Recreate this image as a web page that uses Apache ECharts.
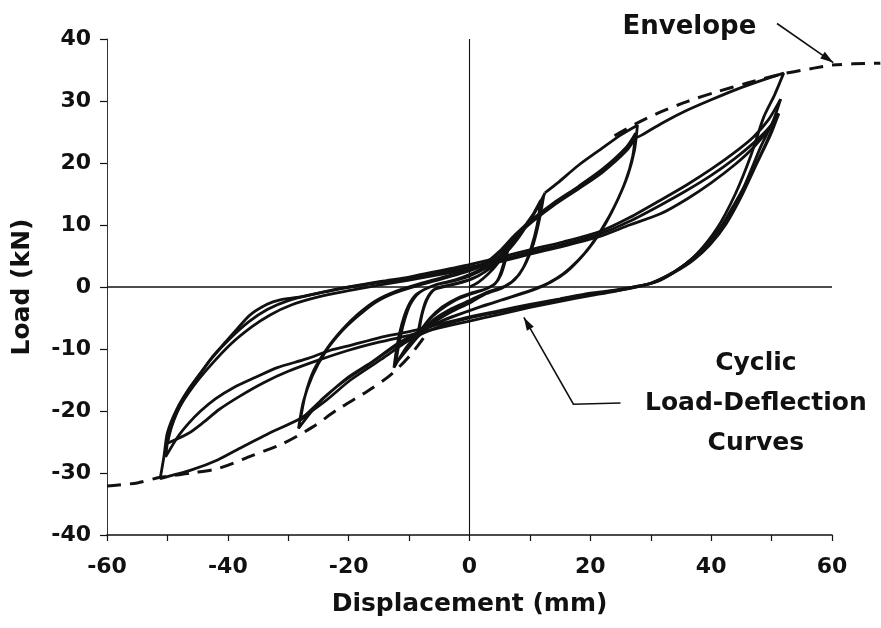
<!DOCTYPE html>
<html><head><meta charset="utf-8">
<script src="https://cdn.jsdelivr.net/npm/echarts@6/dist/echarts.min.js"></script>
<style>html,body{margin:0;padding:0;background:#fff}#c{width:881px;height:628px}</style>
</head><body><div id="c"></div>
<script>
// ---- axis ticks ----
const xTickLabels = [-60, -40, -20, 0, 20, 40, 60];
const yTickLabels = [-40, -30, -20, -10, 0, 10, 20, 30, 40];

// ---- hysteresis branches [displacement mm, load kN] ----
const cycleSmall = [
  [0,0],[1.5,0.8],[3,2],[4.5,3.6],[5.8,5.6],[6.6,7.2],
  [6.0,4.5],[5.2,2.0],[4.2,0.5],[2.5,-0.4],[0,-1.2],[-2.5,-2.2],[-5,-3.8],[-7,-5.6],[-8.6,-7.8],
  [-8.0,-4.8],[-7.2,-2.2],[-6,-0.5],[-3.5,0.2],[-1,0.8],[1.5,1.8],[3.5,3.2],[5.2,5.0],[6.4,7.0],
  [5.6,3.6],[4.6,1.0],[3,-0.2],[0.5,-0.9],[-2,-1.8],[-4.5,-3.2],[-6.5,-5],[-8.4,-7.4],
  [-7.8,-4.2],[-6.8,-1.6],[-5.5,-0.2],[-3,0.4],[0,1.2],[2.5,2.4],[4.5,4.0],[6.0,5.8]
];
const cycleMedium = [
  [6.0,5.8],[8,8.3],[10,11],[11.4,13],[12.3,14.8],
  [11.6,11],[10.6,7],[9.4,4],[8,1.8],[6,0.2],[3,-0.8],[0,-2.2],[-3,-3.5],[-6,-5.3],[-8.5,-7.5],[-10.5,-9.8],[-12.5,-13],
  [-12.0,-9.5],[-11.2,-6],[-10.2,-3.2],[-8.8,-1.2],[-6,0.2],[-3,0.9],[0,1.8],[3,3.2],[5.5,5],[8,7.8],[10,10.8],[11.8,14],
  [11.2,10],[10.2,6.3],[9,3.3],[7.5,1.2],[5.5,-0.1],[2.5,-1.2],[0,-2.6],[-3,-4],[-6,-5.8],[-8.5,-8],[-10.5,-10.3],[-12.2,-12.3],
  [-11.6,-8.8],[-10.8,-5.5],[-9.8,-2.8],[-8.3,-0.9],[-5.5,0.4],[-2.5,1.1],[0,2],[3,3.5],[6,5.8],[8.5,8.8],[10.5,11.5],[12.5,15.2]
];
const cycleLarge = [
  [12.5,15.2],[14.6,16.8],[18,19.6],[21.7,22.2],[25,24.5],[27.8,26.1],
  [27.3,22],[26.2,18],[24.5,14],[22.5,10.2],[20.5,7.2],[18.5,4.8],[16,2.4],[13.5,0.8],[11,-0.3],[7,-1.6],[3,-2.8],[0,-3.8],[-4,-5.2],[-8,-7],[-12,-9.2],[-16,-12],[-20,-14.5],[-24,-17.8],[-28,-21.5],
  [-27.2,-17.5],[-25.8,-13.5],[-23.5,-9.8],[-21,-6.8],[-18.5,-4.4],[-15.5,-2.2],[-12.5,-0.8],[-9,0.3],[-5,1.4],[-1,2.5],[2.5,3.8],[5,5.8],[7.5,8.4],[10.5,11],[14,13.6],[18,16.2],[22,19],[26,22.6],[27.5,24.8],
  [27,21],[25.8,17],[24,13],[22,9.5],[20,6.6],[18,4.3],[15.5,2.1],[13,0.6],[10.5,-0.4],[6.5,-1.7],[2.5,-3],[-0.5,-4],[-4.5,-5.5],[-8.5,-7.4],[-12.5,-9.7],[-16.5,-12.4],[-20.5,-15],[-24.5,-18.2],[-28.3,-22.8],
  [-27.5,-18.5],[-26,-14.3],[-23.8,-10.4],[-21.2,-7.2],[-18.6,-4.8],[-15.6,-2.5],[-12.5,-1],[-9,0.1],[-5,1.2],[-1,2.3],[2.5,3.6],[5,5.5],[7.5,8],[10.5,10.6],[14,13.2],[18,15.8],[22,18.5],[26,22],[27.4,24]
];
const cycleBig1 = [
  [27.4,24],[28.5,24.5],[32,26.5],[36,28.5],[40,30.2],[44,31.8],[48,33.2],[52,34.5],
  [50.5,31],[48.7,27.4],[46.5,21],[44,15],[41,9.5],[37.5,5.2],[34,2.5],[31,1],[29,0.3],[25,-0.5],[20,-1.2],[15,-2],[10,-3],[5,-4],[0,-5],[-5,-6.4],[-10,-8.6],[-14.5,-11.6],
  [-19.7,-15],[-24,-18.5],[-28,-21.2],[-33.4,-23.7],[-38,-26],[-41.7,-27.9],[-46,-29.5],[-51.2,-30.9],
  [-50.6,-27.5],[-50,-23.5],[-48.5,-19.8],[-46.5,-16.5],[-44.5,-13.9],[-42.5,-11.2],[-40.5,-9],[-38.5,-6.8],[-36.3,-4.5],[-33.5,-2.8],[-31.5,-2.1],[-28,-1.6],[-24,-0.8],[-20,0],[-14.7,0.9],[-10,1.6],[-6.5,2.3],[-3,3],[0,3.6],[5.6,4.9],[10,6],[15.6,7.3],[21.7,9],[26.5,11.2],[31.6,14],[36,16.5],[40,19],[44,21.8],[47,24.2],[49.5,27],[51.5,30.3]
];
const cycleBig2 = [
  [51.5,30.3],[50.3,26.9],[48.2,22.6],[45.4,16.1],[43.5,12.8],[41.6,9.7],[39.5,7.2],[37.1,4.8],[34.5,2.8],[31.6,1.1],[28.8,0.3],[24,-0.5],[20,-1],[15,-1.9],[10,-2.8],[5,-3.8],[0,-4.8],[-5,-6],[-10,-7.2],[-15,-8.2],[-20,-9.5],[-23,-10.2],[-27,-11.6],[-31.8,-13],[-35.5,-14.6],[-39,-16.2],[-42,-18],[-44.5,-20],[-46.5,-22],[-48.3,-24.2],[-50.3,-27.4],
  [-49.8,-24],[-48.8,-21],[-47,-17.5],[-45,-14.5],[-42.5,-11.3],[-39.5,-8.2],[-36.5,-5.6],[-33.4,-3.6],[-30,-2.2],[-26,-1.2],[-21,-0.2],[-15,0.7],[-10,1.4],[-5,2.3],[0,3.2],[5.6,4.5],[10,5.6],[15.6,6.9],[21.7,8.6],[26.5,10.6],[31.6,13.2],[36,15.6],[40,18],[44,20.8],[47,23.2],[49.5,25.6],[51.2,28]
];
const cycleBig3 = [
  [51.2,28],[49.8,24.5],[47.5,19.8],[45,14.6],[42.5,10.2],[39.8,6.8],[37,4.3],[34,2.4],[31,0.9],[28.8,0.3],[24,-0.7],[20,-1.4],[15,-2.3],[10,-3.3],[5,-4.4],[0,-5.5],[-5,-6.6],[-10,-7.8],[-15,-8.9],[-20,-10.2],[-25,-11.8],[-30,-13.6],[-34,-15.4],[-38,-17.6],[-41.5,-19.8],[-44,-21.8],[-46.5,-23.6],[-50,-25.2],
  [-49.3,-22.5],[-48,-19.4],[-45.7,-16],[-43,-12.8],[-39.5,-9.2],[-36,-6.4],[-33,-4.5],[-29.5,-2.9],[-25,-1.6],[-20,-0.6],[-15,0.3],[-10,1.1],[-5,2],[0,2.9],[5.6,4.2],[10,5.3],[15.6,6.6],[21.7,8.2],[26.5,10],[31.6,11.8],[36,14.2],[40,16.8],[44,19.8],[47,22.5],[50.5,26.5],
  [49,23],[46.5,18],[44,13.2],[41.5,9.3],[38.5,5.9],[35.5,3.5],[32.5,1.7],[30,0.6],[27,0],[23,-0.8]
];
// ---- envelope (dashed) ----
const envelopeNeg = [[-60,-32.1],[-55,-31.6],[-51.2,-30.7],[-46,-30],[-41.7,-29.3],[-36,-27.2],[-31,-25.3],[-26,-22.6],[-21.9,-19.8],[-16.9,-16.8],[-13.1,-14.2],[-9.8,-11],[-7,-7.4]];
const envelopePos = [[24,24.4],[27.5,26.3],[31.1,28],[36,29.9],[41,31.5],[46,32.9],[51.5,34.3],[57,35.3],[60,35.8]];
const envelopeTail = [[60,35.8],[63.5,36.0],[68,36.1]];
const zeroH = [[-60,0],[60,0]];
const zeroV = [[0,-40],[0,40]];

// ---- annotations (data coords) ----
const envelopeLabel = {text: 'Envelope', at: [36.4, 41.9]};
const envelopeArrow = [[50.9, 42.5], [60.2, 36.2]];
const cyclicLabel = {text: 'Cyclic\nLoad-Deflection\nCurves', at: [47.4, -18.8]};
const cyclicArrow = [[25, -18.7], [17.2, -18.9], [9.0, -4.9]];

const FONT = 'DejaVu Sans';
const INK = '#111';
const chart = echarts.init(document.getElementById('c'), null, {renderer: 'canvas'});

function curve(name, data) {
  return {name, type: 'line', data, smooth: 0.25, showSymbol: false, symbol: 'none', silent: true,
    lineStyle: {color: INK, width: 2.8}, z: 3, animation: false};
}
function straight(name, data, w) {
  return {name, type: 'line', data, showSymbol: false, symbol: 'none', silent: true,
    lineStyle: {color: INK, width: w}, z: 2, animation: false};
}
function dashed(name, data) {
  return {name, type: 'line', data, smooth: 0.3, showSymbol: false, symbol: 'none', silent: true, clip: false,
    lineStyle: {color: INK, width: 3, type: [14, 9]}, z: 4, animation: false};
}

chart.setOption({
  animation: false,
  backgroundColor: '#fff',
  grid: {left: 107, right: 49, top: 39, bottom: 93, containLabel: false},
  xAxis: {
    type: 'value', min: xTickLabels[0], max: xTickLabels[xTickLabels.length - 1], interval: 20,
    name: 'Displacement (mm)', nameLocation: 'middle', nameGap: 57,
    nameTextStyle: {fontFamily: FONT, fontSize: 25, fontWeight: 'bold', color: INK},
    axisLine: {show: true, onZero: false, lineStyle: {color: INK, width: 1.5}},
    axisTick: {show: true, inside: false, length: 6, lineStyle: {color: INK, width: 1.2}},
    minorTick: {show: true, splitNumber: 2, length: 6, lineStyle: {color: INK, width: 1.2}},
    axisLabel: {fontFamily: FONT, fontSize: 22, fontWeight: 'bold', color: INK, margin: 21},
    splitLine: {show: false}
  },
  yAxis: {
    type: 'value', min: yTickLabels[0], max: yTickLabels[yTickLabels.length - 1], interval: 10,
    name: 'Load (kN)', nameLocation: 'middle', nameGap: 72, nameRotate: 90,
    nameTextStyle: {fontFamily: FONT, fontSize: 25, fontWeight: 'bold', color: INK},
    axisLine: {show: true, onZero: false, lineStyle: {color: '#333', width: 1}},
    axisTick: {show: true, inside: false, length: 7, lineStyle: {color: INK, width: 1.2}},
    axisLabel: {fontFamily: FONT, fontSize: 22, fontWeight: 'bold', color: INK, margin: 16},
    splitLine: {show: false}
  },
  series: [
    straight('zeroH', zeroH, 1.6),
    straight('zeroV', zeroV, 1.1),
    curve('cycleSmall', cycleSmall),
    curve('cycleMedium', cycleMedium),
    curve('cycleLarge', cycleLarge),
    curve('cycleBig1', cycleBig1),
    curve('cycleBig2', cycleBig2),
    curve('cycleBig3', cycleBig3),
    dashed('envelopeNeg', envelopeNeg),
    dashed('envelopePos', envelopePos)
  ]
});

function px(p) { return chart.convertToPixel({gridIndex: 0}, p); }
function head(a, b, len, w) {
  const dx = b[0] - a[0], dy = b[1] - a[1], L = Math.hypot(dx, dy);
  const ux = dx / L, uy = dy / L, nx = -uy, ny = ux;
  const bx = b[0] - ux * len, by = b[1] - uy * len;
  return [[b[0], b[1]], [bx + nx * w / 2, by + ny * w / 2], [bx - nx * w / 2, by - ny * w / 2]];
}
const eA = envelopeArrow.map(px);
const cA = cyclicArrow.map(px);
const eT = envelopeTail.map(px);
const eL = px(envelopeLabel.at);
const cL = px(cyclicLabel.at);
chart.setOption({
  graphic: [
    {type: 'polyline', z: 4, shape: {points: eT, smooth: 0.3}, style: {stroke: INK, lineWidth: 3, fill: null, lineDash: [14, 9], lineDashOffset: 4}},
    {type: 'text', x: eL[0], y: eL[1], z: 10, style: {text: envelopeLabel.text, fontFamily: FONT, fontSize: 26, fontWeight: 'bold', fill: INK, align: 'center', verticalAlign: 'middle'}},
    {type: 'text', x: cL[0], y: cL[1], z: 10, style: {text: cyclicLabel.text, fontFamily: FONT, fontSize: 25, fontWeight: 'bold', fill: INK, align: 'center', verticalAlign: 'middle', lineHeight: 40}},
    {type: 'polyline', z: 10, shape: {points: eA}, style: {stroke: INK, lineWidth: 1.6, fill: null}},
    {type: 'polygon', z: 10, shape: {points: head(eA[0], eA[1], 13, 8)}, style: {fill: INK}},
    {type: 'polyline', z: 10, shape: {points: cA}, style: {stroke: INK, lineWidth: 1.6, fill: null}},
    {type: 'polygon', z: 10, shape: {points: head(cA[1], cA[2], 13, 8)}, style: {fill: INK}}
  ]
});
</script></body></html>
